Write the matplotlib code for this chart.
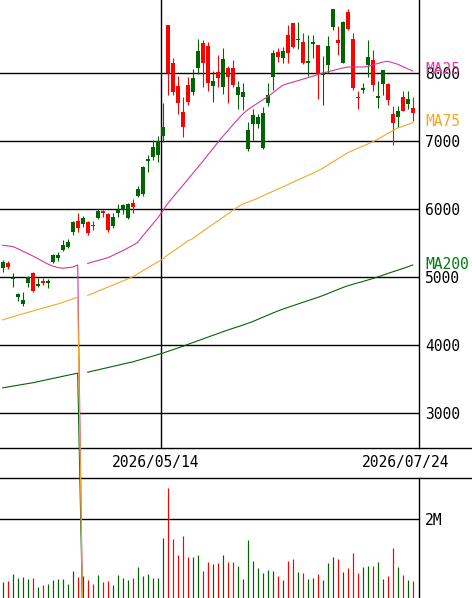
import matplotlib
matplotlib.use("Agg")
import matplotlib.pyplot as plt
import matplotlib.transforms as mtransforms
from matplotlib.lines import Line2D
import numpy as np

# --------- data ---------
opens = [5140, 5205, 4970, 4715, 4610, 4920, 5060, 4870, 4950, 4910,
         5220, 5290, 5400, 5450, 5670, 5830, 5785, 5820, 5770, 5870,
         5970, 5930, 5750, 5950, 5990, 5870, 6100, 6200, 6225, 6710,
         6775, 6800, 7080, 8710, 8150, 7810, 7435, 7830, 7730, 8075,
         8440, 8400, 7820, 8025, 7795, 8075, 8075, 7680, 7645, 6880,
         7255, 7255, 6900, 7570, 7940, 8320, 8220, 8560, 8735, 8490,
         8465, 8150, 8435, 8415, 7980, 8120, 8685, 8490, 8150, 8905,
         8500, 7650, 7750, 8120, 8195, 7640, 7850, 7845, 7400, 7360,
         7655, 7550, 7485]
highs = [5255, 5240, 5060, 4775, 4790, 5020, 5080, 4990, 4995, 4970,
         5345, 5375, 5550, 5570, 5830, 5940, 5900, 5830, 5830, 6000,
         5990, 5940, 5940, 6080, 6080, 6090, 6150, 6350, 6640, 6800,
         7020, 7080, 7560, 8710, 8220, 7960, 7655, 7950, 8070, 8510,
         8490, 8460, 8030, 8275, 8370, 8110, 8195, 7880, 7855, 7290,
         7480, 7400, 7500, 7855, 8345, 8370, 8390, 8710, 8740, 8760,
         8590, 8570, 8570, 8420, 8250, 8550, 8940, 8690, 8770, 8940,
         8590, 7740, 7855, 8490, 8345, 7880, 8045, 7860, 7520, 7520,
         7740, 7740, 7655]
lows = [5080, 5120, 4860, 4650, 4580, 4860, 4785, 4860, 4885, 4845,
        5205, 5245, 5390, 5430, 5620, 5670, 5740, 5620, 5695, 5855,
        5880, 5660, 5720, 5880, 5930, 5860, 5950, 6180, 6200, 6550,
        6720, 6690, 6990, 7680, 7680, 7400, 7070, 7530, 7680, 7995,
        7800, 7740, 7580, 7800, 7700, 7570, 7795, 7480, 7460, 6860,
        7020, 7200, 6880, 7520, 7750, 8160, 8150, 8150, 8365, 8355,
        8135, 7960, 8230, 7620, 7530, 8010, 8640, 8270, 8150, 8640,
        7750, 7480, 7710, 7950, 7745, 7490, 7680, 7530, 6940, 7210,
        7450, 7480, 7300]
closes = [5220, 5155, 4995, 4755, 4665, 5010, 4800, 4900, 4910, 4950,
          5330, 5330, 5475, 5520, 5820, 5720, 5870, 5655, 5755, 5980,
          5950, 5700, 5885, 5990, 6060, 6080, 6030, 6295, 6625, 6740,
          6920, 7010, 7215, 8000, 7730, 7570, 7215, 7580, 7925, 8330,
          8155, 7860, 7890, 7935, 8205, 7950, 7830, 7795, 7730, 7165,
          7385, 7360, 7420, 7680, 8300, 8245, 8335, 8295, 8380, 8510,
          8150, 8175, 8465, 7990, 8000, 8400, 8940, 8450, 8760, 8650,
          7780, 7630, 7780, 8245, 7830, 7670, 8045, 7610, 7270, 7445,
          7450, 7615, 7410]
# volume in thousands of shares
volumes = [414, 440, 610, 516, 541, 490, 516, 287, 330, 356,
           457, 490, 490, 356, 686, 541, 559, 445, 356, 584,
           414, 440, 330, 584, 516, 457, 516, 796, 559, 610,
           500, 516, 1530, 2790, 1490, 1090, 1580, 1050, 1050, 1090,
           686, 915, 864, 898, 1090, 915, 915, 813, 490, 1470,
           940, 771, 627, 711, 686, 559, 457, 940, 991, 661,
           627, 490, 516, 610, 457, 881, 1030, 991, 661, 762,
           1140, 627, 788, 813, 813, 915, 490, 559, 1280, 788,
           584, 457, 432]
# moving averages (the feed drops to 0 for one day)
ma25 = [5471, 5462, 5453, 5421, 5385, 5350, 5315, 5275, 5235, 5196,
        5166, 5143, 5134, 5141, 5151, 5181, 0, 5204, 5225, 5247,
        5266, 5287, 5321, 5357, 5391, 5431, 5468, 5515, 5607, 5696,
        5784, 5872, 5975, 6085, 6174, 6262, 6350, 6438, 6527, 6615,
        6703, 6799, 6887, 6982, 7071, 7152, 7240, 7321, 7402, 7465,
        7513, 7563, 7610, 7656, 7710, 7769, 7824, 7849, 7869, 7891,
        7913, 7935, 7957, 7981, 8003, 8022, 8041, 8059, 8078, 8093,
        8093, 8093, 8093, 8100, 8122, 8144, 8166, 8177, 8156, 8134,
        8100, 8066, 8034]
ma75 = [4375, 4397, 4418, 4440, 4462, 4484, 4504, 4525, 4546, 4566,
        4587, 4607, 4631, 4657, 4682, 4707, 0, 4732, 4762, 4794,
        4824, 4854, 4884, 4915, 4946, 4975, 5009, 5052, 5096, 5138,
        5181, 5225, 5269, 5328, 5377, 5428, 5481, 5534, 5569, 5622,
        5676, 5729, 5777, 5828, 5880, 5931, 5982, 6034, 6078, 6104,
        6132, 6163, 6196, 6229, 6263, 6296, 6328, 6362, 6397, 6431,
        6463, 6496, 6530, 6563, 6603, 6649, 6696, 6741, 6787, 6832,
        6865, 6897, 6928, 6960, 6993, 7030, 7072, 7115, 7156, 7196,
        7221, 7247, 7274]
ma200 = [3375, 3387, 3400, 3412, 3425, 3437, 3449, 3465, 3481, 3497,
         3512, 3528, 3544, 3560, 3575, 3591, 0, 3604, 3622, 3638,
         3656, 3672, 3690, 3706, 3724, 3740, 3756, 3778, 3799, 3821,
         3841, 3863, 3885, 3910, 3935, 3960, 3985, 4013, 4040, 4066,
         4093, 4119, 4146, 4172, 4199, 4224, 4249, 4272, 4297, 4322,
         4349, 4381, 4412, 4443, 4474, 4504, 4532, 4556, 4581, 4606,
         4631, 4656, 4680, 4705, 4731, 4760, 4790, 4819, 4849, 4875,
         4897, 4918, 4938, 4960, 4981, 5006, 5031, 5056, 5081, 5104,
         5129, 5154, 5181]

price_ticks = [3000, 4000, 5000, 6000, 7000, 8000]
vol_ticks = [2000000]
vol_tick_labels = ["2M"]
date_labels = {32: "2026/05/14", 82: "2026/07/24"}

UP = "#006400"
DOWN = "#ff0000"
FONT = "DejaVu Sans Mono"
FS = 10.5
PX = 0.72  # one pixel in points

W, H = 472, 598
fig = plt.figure(figsize=(W / 100, H / 100), dpi=100)
fig.patch.set_facecolor("white")

plot_w = 419.3 / W
axv = fig.add_axes([0, 0, plot_w, 120 / H])
ax = fig.add_axes([0, 150 / H, plot_w, 448 / H])
# price panel on top so the broken MA drop runs over the volume panel
ax.set_zorder(3)
ax.patch.set_visible(False)

n = len(closes)
x = np.arange(n)
o = np.array(opens, float)
c = np.array(closes, float)
hi = np.array(highs, float)
lo = np.array(lows, float)
colors = [UP if cc >= oo else DOWN for oo, cc in zip(o, c)]

for a in (ax, axv):
    a.set_xlim(-0.54, 83.32)
    for s in ("top", "left", "bottom"):
        a.spines[s].set_visible(False)
    a.spines["right"].set_color("black")
    a.spines["right"].set_linewidth(1.0)
    a.set_xticks([])
    a.yaxis.tick_right()
    a.tick_params(axis="y", length=0, pad=4, labelsize=FS)

# --------- price panel ---------
ax.set_ylim(2490, 9078)
ax.set_yticks(price_ticks)
ax.set_yticklabels([str(t) for t in price_ticks], fontfamily=FONT, fontsize=FS)
for t in price_ticks:
    ax.axhline(t, color="black", lw=1.0, zorder=1)
ax.axvline(32 - 0.4, color="black", lw=1.0, zorder=1)

ax.vlines(x, lo, hi, colors=colors, lw=PX * 1.1, zorder=3)
body = np.maximum(np.abs(c - o), 15)
ax.bar(x, body, bottom=np.minimum(o, c), width=0.8, color=colors,
       edgecolor="none", zorder=4)

ma_styles = [(ma200, "#006400", "#007a10", "MA200", 5),
             (ma25, "#d6349e", "#e0409e", "MA25", 6),
             (ma75, "#f0a828", "#f5a623", "MA75", 7)]
for vals, col, lcol, name, z in ma_styles:
    g = vals.index(0)
    ax.plot(x[:g + 1], vals[:g + 1], color=col, lw=PX * 1.1, zorder=z,
            clip_on=False)
    ax.plot(x[g + 1:], vals[g + 1:], color=col, lw=PX * 1.1, zorder=z)
    ax.annotate(name, xy=(1, vals[-1]), xycoords=("axes fraction", "data"),
                xytext=(6, 1), textcoords="offset pixels", va="center",
                ha="left", color=lcol, fontfamily=FONT, fontsize=FS,
                annotation_clip=False)

# --------- volume panel ---------
vol = np.array(volumes, float) * 1000
axv.set_ylim(0, 3.05e6)
axv.set_yticks(vol_ticks)
axv.set_yticklabels(vol_tick_labels, fontfamily=FONT, fontsize=FS)
for t in vol_ticks:
    axv.axhline(t, color="black", lw=1.0, zorder=1)
axv.vlines(x, 0, vol, colors=colors, lw=PX * 1.2, zorder=3)

# --------- date strip ---------
for yy in (150 / H, 120 / H):
    fig.add_artist(Line2D([0, 1], [yy, yy], color="black", lw=1.0,
                          transform=fig.transFigure))
trans = mtransforms.blended_transform_factory(ax.transData, fig.transFigure)
for idx, lab in date_labels.items():
    ax.text(idx - 1.5, 135 / H, lab, transform=trans, ha="center",
            va="center", fontfamily=FONT, fontsize=FS, color="black",
            clip_on=False)

fig.savefig("out.png", dpi=100, facecolor="white")
